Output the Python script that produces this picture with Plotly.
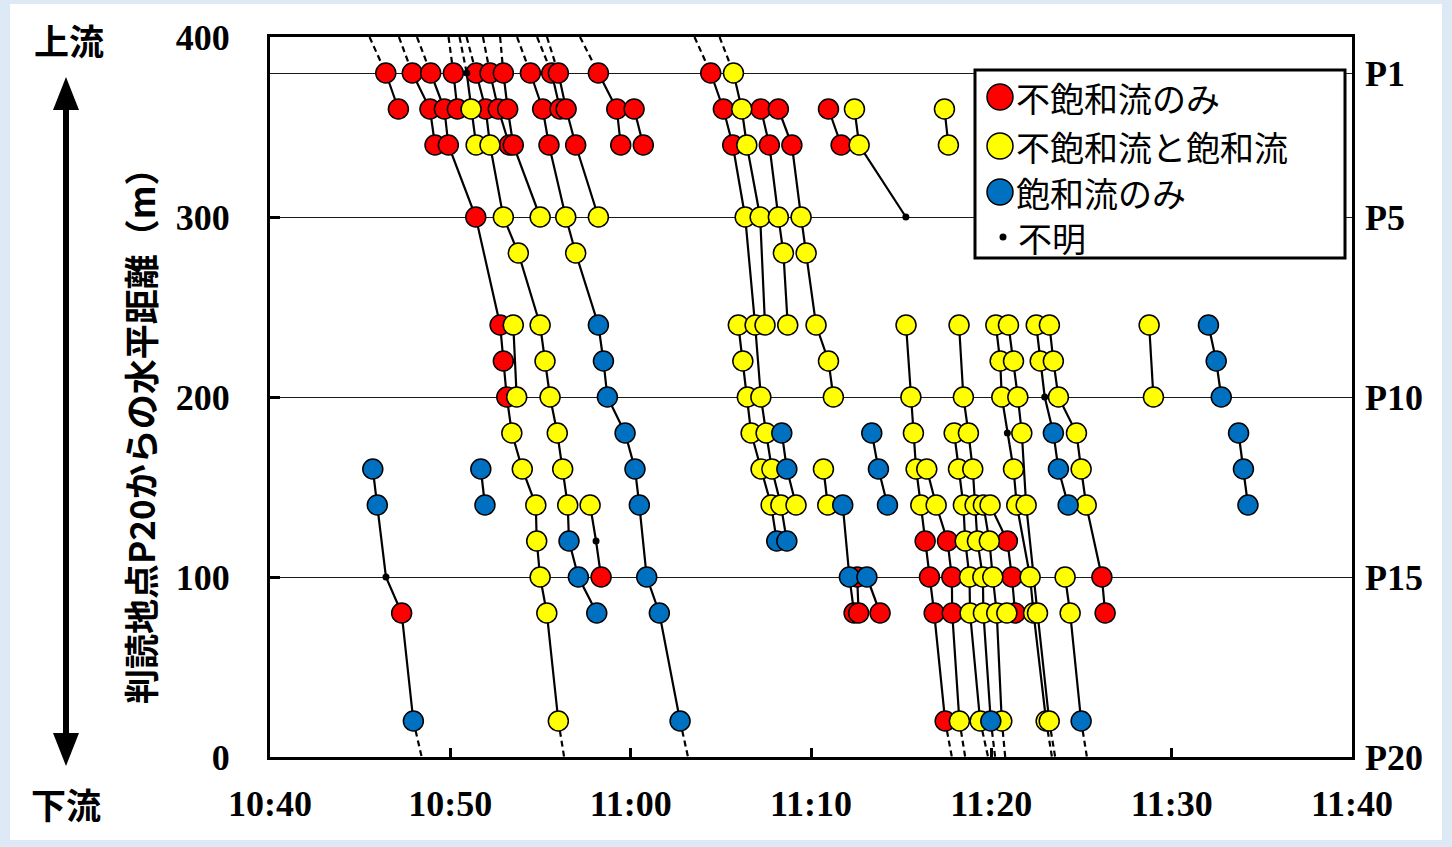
import plotly.graph_objects as go

# Observation tracks: (time in minutes after 10:00, distance from P20 [m], class)
# class: R = 不飽和流のみ, Y = 不飽和流と飽和流, B = 飽和流のみ, D = 不明,
#        "-" = extrapolated end of a track (dashed, no marker)
track_01 = [(45.52, 400, "-"), (46.42, 380, "R"), (47.12, 360, "R")]
track_02 = [(47.15, 400, "-"), (47.89, 380, "R"), (48.87, 360, "R"), (49.15, 340, "R")]
track_03 = [(48.15, 400, "-"), (48.91, 380, "R"), (49.67, 360, "R"), (49.89, 340, "R"),
            (51.41, 300, "R"), (52.76, 240, "R"), (52.94, 220, "R"), (53.13, 200, "R"),
            (53.41, 180, "Y"), (53.99, 160, "Y"), (54.74, 140, "Y"), (54.79, 120, "Y"),
            (54.98, 100, "Y"), (55.35, 80, "Y"), (55.99, 20, "Y"), (56.31, 0, "-")]
track_04 = [(49.90, 400, "-"), (50.17, 380, "R"), (50.39, 360, "R")]
track_05 = [(50.51, 400, "-"), (50.91, 380, "D"), (51.15, 360, "Y"), (51.43, 340, "Y")]
track_06 = [(50.90, 400, "-"), (51.43, 380, "R"), (51.96, 360, "R"), (52.20, 340, "Y"),
            (52.94, 300, "Y"), (53.77, 280, "Y"), (54.98, 240, "Y"), (55.25, 220, "Y"),
            (55.53, 200, "Y"), (55.93, 180, "Y"), (56.23, 160, "Y"), (56.51, 140, "Y"),
            (56.58, 120, "B"), (57.10, 100, "B"), (58.12, 80, "B")]
track_07 = [(51.81, 400, "-"), (52.20, 380, "R"), (52.66, 360, "R"), (53.27, 340, "R")]
track_08 = [(52.76, 400, "-"), (52.94, 380, "R"), (53.18, 360, "R"), (53.49, 340, "R"),
            (54.98, 300, "Y")]
track_09 = [(53.70, 400, "-"), (54.44, 380, "R"), (55.12, 360, "R"), (55.47, 340, "R"),
            (56.40, 300, "Y"), (56.95, 280, "Y"), (58.21, 240, "B"), (58.49, 220, "B"),
            (58.71, 200, "B"), (59.69, 180, "B"), (60.24, 160, "B"), (60.48, 140, "B"),
            (60.89, 100, "B"), (61.59, 80, "B"), (62.74, 20, "B"), (63.18, 0, "-")]
track_10 = [(54.81, 400, "-"), (55.62, 380, "R"), (56.08, 360, "R")]
track_11 = [(55.36, 400, "-"), (55.99, 380, "R"), (56.42, 360, "R"), (56.95, 340, "R"),
            (58.21, 300, "Y")]
track_12 = [(57.19, 400, "-"), (58.21, 380, "R"), (59.23, 360, "R"), (59.45, 340, "R")]
track_13 = [(60.19, 360, "R"), (60.70, 340, "R")]
track_14 = [(63.54, 400, "-"), (64.44, 380, "R"), (65.14, 360, "R"), (65.66, 340, "R"),
            (66.35, 300, "Y"), (66.90, 240, "Y"), (67.22, 200, "Y"), (67.51, 180, "Y"),
            (67.83, 160, "Y"), (68.33, 140, "Y"), (68.66, 120, "B")]
track_15 = [(64.93, 400, "-"), (65.70, 380, "Y"), (66.16, 360, "Y"), (66.44, 340, "Y"),
            (67.18, 300, "Y"), (67.45, 240, "Y")]
track_16 = [(67.22, 360, "R"), (67.69, 340, "R"), (68.19, 300, "Y"), (68.47, 280, "Y"),
            (68.71, 240, "Y")]
track_17 = [(68.19, 360, "R"), (68.94, 340, "R"), (69.45, 300, "Y"), (69.73, 280, "Y"),
            (70.28, 240, "Y"), (70.97, 220, "Y"), (71.24, 200, "Y")]
track_18 = [(65.97, 240, "Y"), (66.22, 220, "Y"), (66.47, 200, "Y"), (66.68, 180, "Y"),
            (67.23, 160, "Y"), (67.79, 140, "Y"), (68.10, 120, "B")]
track_19 = [(68.38, 180, "B"), (68.66, 160, "B"), (69.17, 140, "Y")]
track_20 = [(70.69, 160, "Y"), (70.93, 140, "Y")]
track_21 = [(71.76, 140, "B"), (72.13, 100, "B"), (72.39, 80, "R")]
track_22 = [(72.56, 100, "R"), (72.64, 80, "R")]
track_23 = [(73.10, 100, "B"), (73.83, 80, "R")]
track_24 = [(73.37, 180, "B"), (73.74, 160, "B"), (74.24, 140, "B")]
track_25 = [(70.97, 360, "R"), (71.67, 340, "R")]
track_26 = [(72.41, 360, "Y"), (72.67, 340, "Y"), (75.26, 300, "D")]
track_27 = [(77.40, 360, "Y"), (77.62, 340, "Y")]
track_28 = [(75.27, 240, "Y"), (75.54, 200, "Y"), (75.68, 180, "Y"), (75.83, 160, "Y"),
            (76.09, 140, "Y"), (76.33, 120, "R"), (76.57, 100, "R"), (76.83, 80, "R"),
            (77.44, 20, "R"), (77.81, 0, "-")]
track_29 = [(76.42, 160, "Y"), (76.94, 140, "Y"), (77.57, 120, "R"), (77.81, 100, "R"),
            (77.83, 80, "R"), (78.23, 20, "Y"), (78.55, 0, "-")]
track_30 = [(77.94, 180, "Y"), (78.18, 160, "Y"), (78.45, 140, "Y"), (78.55, 120, "Y"),
            (78.79, 100, "Y"), (78.82, 80, "Y"), (79.38, 20, "Y"), (79.82, 0, "-")]
track_31 = [(78.21, 240, "Y"), (78.45, 200, "Y"), (78.73, 180, "Y"), (78.97, 160, "Y"),
            (79.10, 140, "Y"), (79.23, 120, "Y"), (79.53, 100, "Y"), (79.56, 80, "Y"),
            (79.97, 20, "B"), (80.21, 0, "-")]
track_32 = [(79.56, 140, "Y"), (79.89, 120, "Y"), (80.08, 100, "Y"), (80.30, 80, "Y"),
            (80.58, 20, "Y"), (80.77, 0, "-")]
track_33 = [(79.93, 140, "Y"), (80.89, 120, "R"), (81.14, 100, "R"), (81.32, 80, "R")]
track_34 = [(80.86, 80, "Y")]
track_35 = [(80.25, 240, "Y"), (80.49, 220, "Y"), (80.58, 200, "Y"), (80.89, 180, "D"),
            (81.23, 160, "Y"), (81.41, 140, "Y"), (82.15, 100, "Y"), (82.34, 80, "Y"),
            (83.04, 20, "Y"), (83.36, 0, "-")]
track_36 = [(80.95, 240, "Y"), (81.23, 220, "Y"), (81.47, 200, "Y"), (81.69, 180, "Y"),
            (81.93, 140, "Y"), (82.56, 80, "Y"), (83.21, 20, "Y"), (83.54, 0, "-")]
track_37 = [(82.49, 240, "Y"), (82.71, 220, "Y"), (82.96, 200, "D"), (83.44, 180, "B"),
            (83.72, 160, "B"), (84.26, 140, "B")]
track_38 = [(83.22, 240, "Y"), (83.44, 220, "Y"), (83.72, 200, "Y"), (84.72, 180, "Y"),
            (84.98, 160, "Y"), (85.26, 140, "Y"), (86.13, 100, "R"), (86.31, 80, "R")]
track_39 = [(84.09, 100, "Y"), (84.37, 80, "Y"), (84.98, 20, "B"), (85.30, 0, "-")]
track_40 = [(88.75, 240, "Y"), (88.99, 200, "Y")]
track_41 = [(92.04, 240, "B"), (92.47, 220, "B"), (92.75, 200, "B")]
track_42 = [(93.71, 180, "B"), (93.98, 160, "B"), (94.23, 140, "B")]
track_43 = [(45.70, 160, "B"), (45.95, 140, "B"), (46.43, 100, "D"), (47.30, 80, "R"),
            (47.95, 20, "B"), (48.41, 0, "-")]
track_44 = [(51.69, 160, "B"), (51.92, 140, "B")]
track_45 = [(57.75, 140, "Y"), (58.08, 120, "D"), (58.36, 100, "R")]
track_46 = [(53.49, 240, "Y"), (53.68, 200, "Y")]

tracks = [track_01, track_02, track_03, track_04, track_05, track_06, track_07, track_08,
          track_09, track_10, track_11, track_12, track_13, track_14, track_15, track_16,
          track_17, track_18, track_19, track_20, track_21, track_22, track_23, track_24,
          track_25, track_26, track_27, track_28, track_29, track_30, track_31, track_32,
          track_33, track_34, track_35, track_36, track_37, track_38, track_39, track_40,
          track_41, track_42, track_43, track_44, track_45, track_46]

# axis labels
x_tick_vals = [40, 50, 60, 70, 80, 90, 100]
x_tick_text = ["10:40", "10:50", "11:00", "11:10", "11:20", "11:30", "11:40"]
y_tick_vals = [0, 100, 200, 300, 400]
point_dist = [380, 300, 200, 100, 0]
point_names = ["P1", "P5", "P10", "P15", "P20"]

class_order = ["R", "Y", "B", "D"]
class_names = {"R": "不飽和流のみ", "Y": "不飽和流と飽和流", "B": "飽和流のみ", "D": "不明"}
class_colors = {"R": "#ff0000", "Y": "#ffff00", "B": "#0070c0"}

# ---- build line geometry ----
solid_x, solid_y, dash_x, dash_y = [], [], [], []
for tr in tracks:
    pts = [p for p in tr if p[2] != "-"]
    if len(pts) > 1:
        solid_x += [p[0] for p in pts] + [None]
        solid_y += [p[1] for p in pts] + [None]
    for a, b in zip(tr[:-1], tr[1:]):
        if a[2] == "-" or b[2] == "-":
            dash_x += [a[0], b[0], None]
            dash_y += [a[1], b[1], None]

fig = go.Figure()
fig.add_trace(go.Scatter(x=dash_x, y=dash_y, mode="lines", showlegend=False, hoverinfo="skip",
                         line=dict(color="black", width=2.2, dash="6px,4px")))
fig.add_trace(go.Scatter(x=solid_x, y=solid_y, mode="lines", showlegend=False, hoverinfo="skip",
                         line=dict(color="black", width=2.2)))

for cls in ["R", "Y", "B"]:
    pts = sorted([p for tr in tracks for p in tr if p[2] == cls], key=lambda p: p[0])
    fig.add_trace(go.Scatter(
        x=[p[0] for p in pts], y=[p[1] for p in pts], mode="markers", name=class_names[cls],
        showlegend=False,
        marker=dict(size=20, color=class_colors[cls], line=dict(color="black", width=1.5))))
pts = [p for tr in tracks for p in tr if p[2] == "D"]
fig.add_trace(go.Scatter(x=[p[0] for p in pts], y=[p[1] for p in pts], mode="markers",
                         name=class_names["D"], showlegend=False,
                         marker=dict(size=7, color="black")))
# secondary axis carrying the station names and guide lines
fig.add_trace(go.Scatter(x=[40], y=[0], yaxis="y2", mode="markers", showlegend=False,
                         hoverinfo="skip", marker=dict(opacity=0)))

# ---- layout helpers (pixel -> paper) ----
W, H = 1452, 847
PL, PR, PT, PB = 270, 1352, 37, 757


def fx(px):
    return (px - PL) / (PR - PL)


def fy(py):
    return (PB - py) / (PB - PT)


num_font = dict(family="Liberation Serif, Times New Roman, serif", size=36, color="black",
                weight="bold")
jp = "Noto Sans CJK JP, sans-serif"

shapes = [
    # page frame
    dict(type="rect", xref="paper", yref="paper", x0=fx(10), x1=fx(1442), y0=fy(840), y1=fy(4),
         fillcolor="white", line=dict(width=0), layer="below"),
    # upstream / downstream arrow
    dict(type="line", xref="paper", yref="paper", x0=fx(66), x1=fx(66), y0=fy(105), y1=fy(738),
         line=dict(color="black", width=6)),
    dict(type="path", xref="paper", yref="paper", fillcolor="black", line=dict(width=0),
         path=f"M {fx(66)} {fy(77)} L {fx(53)} {fy(110)} L {fx(79)} {fy(110)} Z"),
    dict(type="path", xref="paper", yref="paper", fillcolor="black", line=dict(width=0),
         path=f"M {fx(66)} {fy(766)} L {fx(53)} {fy(733)} L {fx(79)} {fy(733)} Z"),
    # legend box
    dict(type="rect", xref="paper", yref="paper", x0=fx(975), x1=fx(1345), y0=fy(258), y1=fy(70),
         fillcolor="white", line=dict(color="black", width=3), layer="above"),
]

# legend: symbols as shapes, labels as separate text rows
legend_rows_y = [97, 146, 192, 237]
annotations = []
for cls, py in zip(class_order, legend_rows_y):
    r = 13 if cls != "D" else 3.5
    cx = 1000 if cls != "D" else 1003
    shapes.append(dict(type="circle", xref="paper", yref="paper", layer="above",
                       x0=fx(cx - r), x1=fx(cx + r), y0=fy(py + r), y1=fy(py - r),
                       fillcolor=class_colors.get(cls, "black"),
                       line=dict(color="black", width=1.5 if cls != "D" else 0)))
    annotations.append(dict(xref="paper", yref="paper", x=fx(1014 if cls != "D" else 1016),
                            y=fy(py), xanchor="left", yanchor="middle", showarrow=False,
                            text=class_names[cls],
                            font=dict(family=jp, size=34, color="black")))

annotations += [
    dict(xref="paper", yref="paper", x=fx(69), y=fy(40), text="上流", showarrow=False,
         xanchor="center", yanchor="middle", font=dict(family=jp, size=35, color="black", weight="bold")),
    dict(xref="paper", yref="paper", x=fx(66), y=fy(803), text="下流", showarrow=False,
         xanchor="center", yanchor="middle", font=dict(family=jp, size=35, color="black", weight="bold")),
    dict(xref="paper", yref="paper", x=fx(139), y=fy(428), text="判読地点P20からの水平距離（m）",
         textangle=-90, showarrow=False, xanchor="center", yanchor="middle",
         font=dict(family=jp, size=35, color="black", weight="bold")),
]

fig.update_layout(
    width=W, height=H,
    margin=dict(l=PL, r=W - PR, t=PT, b=H - PB, pad=0),
    paper_bgcolor="#dde9f5", plot_bgcolor="white",
    showlegend=False,
    shapes=shapes, annotations=annotations,
    xaxis=dict(range=[40, 100], tickvals=x_tick_vals, ticktext=x_tick_text,
               ticks="inside", ticklen=9, tickwidth=3, tickcolor="black",
               showline=True, linewidth=3, linecolor="black", mirror=True,
               showgrid=False, zeroline=False, tickfont=num_font, ticklabelstandoff=13),
    yaxis=dict(range=[0, 400], tickvals=y_tick_vals, ticks="inside", ticklen=10, tickwidth=3,
               tickcolor="black", showline=True, linewidth=3, linecolor="black", mirror=True,
               showgrid=False, zeroline=False, tickfont=num_font, ticklabelstandoff=30),
    yaxis2=dict(range=[0, 400], overlaying="y", side="right", tickvals=point_dist,
                ticktext=point_names, ticks="", showline=False, zeroline=False,
                showgrid=True, gridcolor="#1a1a1a", gridwidth=1.3,
                tickfont=num_font, ticklabelstandoff=12),
)

fig.write_html("out.html")
